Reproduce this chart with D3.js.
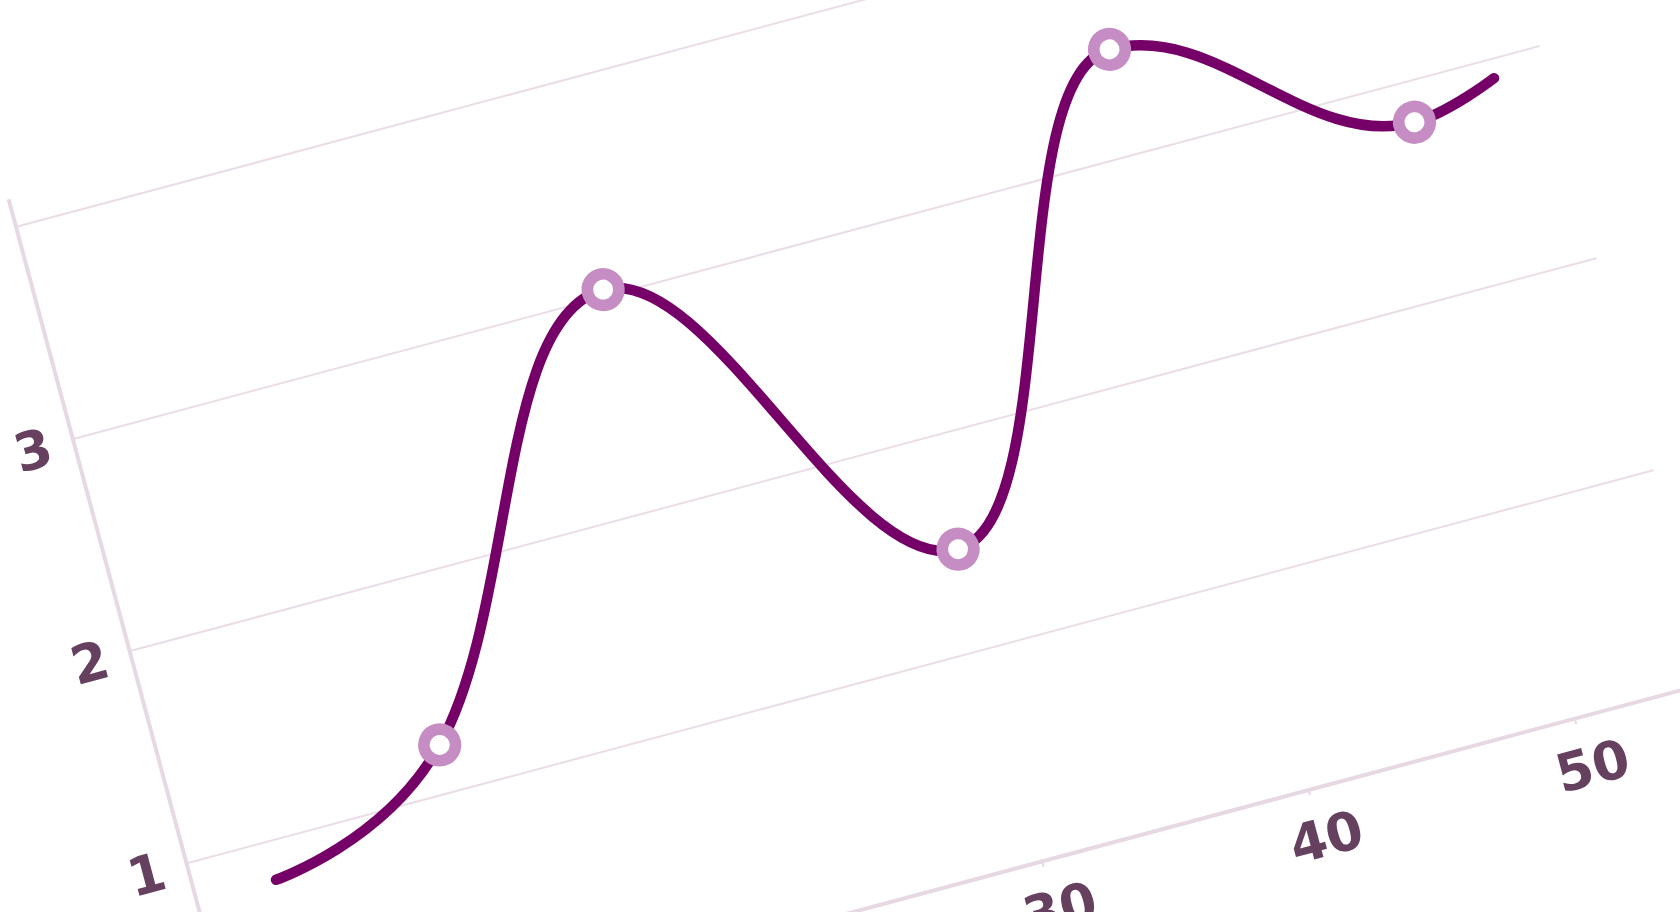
<!DOCTYPE html>
<html>
<head>
<meta charset="utf-8">
<script src="https://cdn.jsdelivr.net/npm/d3@7"></script>
<style>
  html, body { margin: 0; padding: 0; background: #fff; overflow: hidden; }
  svg { display: block; }
  .tick text { font-family: "DejaVu Sans", sans-serif; font-weight: 700; fill: #65405f; }
</style>
</head>
<body>
<div id="chart"></div>
<script>
// data
var xValues = [3, 10, 20, 30, 40, 50, 53.2];
var yValues = [0.82, 1.22, 3.03, 1.47, 3.49, 2.81, 2.91];
var markerIdx = [1, 2, 3, 4, 5];
var xTicks = [0, 10, 20, 30, 40, 50];
var yTicks = [0, 1, 2, 3, 4];
var xMax = 55.1, yMax = 4.13;

var widthLine = 1519, heightLine = 907;

// spline: control points at 1/2.5 of the way to the neighbours, flattened at extremes
function Spline(context) { this._context = context; }
Spline.prototype = {
  areaStart: function() { this._line = 0; },
  areaEnd: function() { this._line = NaN; },
  lineStart: function() { this._pts = []; },
  point: function(x, y) { this._pts.push([+x, +y]); },
  lineEnd: function() {
    var p = this._pts, n = p.length, ctx = this._context, s = 1.5, den = s + 1;
    if (!n) return;
    ctx.moveTo(p[0][0], p[0][1]);
    var prevR = p[0];
    for (var i = 1; i < n; i++) {
      var cur = p[i], last = p[i - 1], next = p[i + 1];
      var L = cur, R = cur;
      if (next) {
        var lx = (s * cur[0] + last[0]) / den, ly = (s * cur[1] + last[1]) / den;
        var rx = (s * cur[0] + next[0]) / den, ry = (s * cur[1] + next[1]) / den;
        var corr = (ry - ly) * (rx - cur[0]) / (rx - lx) + cur[1] - ry;
        ly += corr; ry += corr;
        if (ly > last[1] && ly > cur[1]) { ly = Math.max(last[1], cur[1]); ry = 2 * cur[1] - ly; }
        else if (ly < last[1] && ly < cur[1]) { ly = Math.min(last[1], cur[1]); ry = 2 * cur[1] - ly; }
        if (ry > next[1] && ry > cur[1]) { ry = Math.max(next[1], cur[1]); ly = 2 * cur[1] - ry; }
        else if (ry < next[1] && ry < cur[1]) { ry = Math.min(next[1], cur[1]); ly = 2 * cur[1] - ry; }
        L = [lx, ly]; R = [rx, ry];
      }
      ctx.bezierCurveTo(prevR[0], prevR[1], L[0], L[1], cur[0], cur[1]);
      prevR = R;
    }
  }
};
var curveSpline = function(context) { return new Spline(context); };

const svgLine = d3.select('#chart')
  .append('svg')
  .attr("width", 1680)
  .attr("height", 912);

// whole plot is tilted
const g = svgLine.append("g")
  .attr("transform", "translate(8,199) rotate(-15)");

var x = d3.scaleLinear().domain([0, xMax]).range([0, widthLine]);
var y = d3.scaleLinear().domain([0, yMax]).range([heightLine, 0]);

// grid
g.append("g")
  .attr("class", "grid")
  .call(d3.axisLeft(y).tickValues(yTicks).tickSize(-widthLine).tickFormat(""))
  .call(function(s) {
    s.select(".domain").remove();
    s.selectAll("line").style("stroke", "#eadde7").style("stroke-width", 2);
  });

// y axis
g.append("g")
  .attr("class", "y-axis")
  .call(d3.axisLeft(y).tickValues(yTicks).tickSize(0).tickSizeOuter(0).tickPadding(0).tickFormat(d3.format("d")))
  .call(function(s) {
    s.select(".domain").style("stroke", "#e7d9e4").style("stroke-width", 4);
    s.selectAll("text")
      .attr("x", -41)
      .attr("dy", "0.36em")
      .style("text-anchor", "middle")
      .style("font-size", "53px");
  });

// x axis
g.append("g")
  .attr("class", "x-axis")
  .attr("transform", "translate(0," + heightLine + ")")
  .call(d3.axisBottom(x).tickValues(xTicks).tickSize(6).tickSizeOuter(0).tickFormat(d3.format("d")))
  .call(function(s) {
    s.select(".domain").style("stroke", "#e7d9e4").style("stroke-width", 4);
    s.selectAll("line").style("stroke", "#e7d9e4").style("stroke-width", 2);
    s.selectAll("text")
      .attr("x", 5)
      .attr("y", 50)
      .attr("dy", "0.36em")
      .style("font-size", "53px");
  });

var points = xValues.map(function(d, i) { return [d, yValues[i]]; });

var line = d3.line()
  .x(function(d) { return x(d[0]); })
  .y(function(d) { return y(d[1]); })
  .curve(curveSpline);

g.append("path")
  .datum(points)
  .attr("d", line)
  .style("fill", "none")
  .style("stroke", "#750067")
  .style("stroke-width", 10.5)
  .style("stroke-linecap", "round");

g.append("g")
  .selectAll("circle")
  .data(markerIdx.map(function(i) { return points[i]; }))
  .enter().append("circle")
  .attr("cx", function(d) { return x(d[0]); })
  .attr("cy", function(d) { return y(d[1]); })
  .attr("r", 15.8)
  .style("fill", "#fff")
  .style("stroke", "#c58dc3")
  .style("stroke-width", 11.6);
</script>
</body>
</html>
